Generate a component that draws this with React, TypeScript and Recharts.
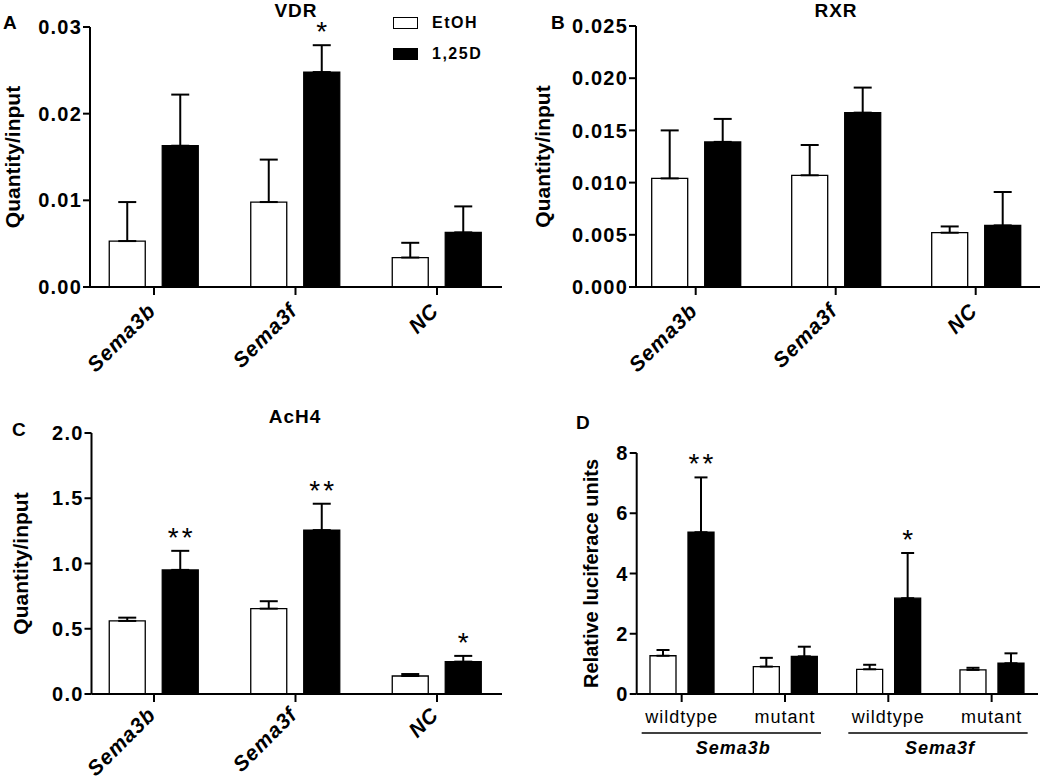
import React from "react";
import { BarChart, Bar, XAxis, YAxis, ErrorBar, LabelList, Legend } from "recharts";

const FONT = '"Liberation Sans", Arial, Helvetica, sans-serif';

// A - VDR ChIP
const GENES = ["Sema3b", "Sema3f", "NC"];
const VDR_ETOH = [0.0053, 0.0098, 0.0034];
const VDR_ETOH_ERR = [0.0045, 0.0049, 0.0017];
const VDR_D = [0.0163, 0.0248, 0.0063];
const VDR_D_ERR = [0.0059, 0.0031, 0.003];
const VDR_SIG = ["", "*", ""];
const VDR_TICKS = [0, 0.01, 0.02, 0.03];

// B - RXR ChIP
const RXR_ETOH = [0.0104, 0.0107, 0.0052];
const RXR_ETOH_ERR = [0.0046, 0.0029, 0.0006];
const RXR_D = [0.0139, 0.0167, 0.0059];
const RXR_D_ERR = [0.0022, 0.0024, 0.0032];
const RXR_SIG = ["", "", ""];
const RXR_TICKS = [0, 0.005, 0.01, 0.015, 0.02, 0.025];

// C - AcH4 ChIP
const ACH4_ETOH = [0.56, 0.654, 0.138];
const ACH4_ETOH_ERR = [0.025, 0.057, 0.015];
const ACH4_D = [0.951, 1.256, 0.248];
const ACH4_D_ERR = [0.146, 0.202, 0.044];
const ACH4_SIG = ["**", "**", "*"];
const ACH4_TICKS = [0, 0.5, 1, 1.5, 2];

// D - luciferase reporter
const CONSTRUCTS = ["wildtype", "mutant", "wildtype", "mutant"];
const CONSTRUCT_GENE = ["Sema3b", "Sema3b", "Sema3f", "Sema3f"];
const LUC_ETOH = [1.27, 0.91, 0.82, 0.8];
const LUC_ETOH_ERR = [0.19, 0.29, 0.15, 0.07];
const LUC_D = [5.37, 1.25, 3.18, 1.02];
const LUC_D_ERR = [1.82, 0.32, 1.5, 0.33];
const LUC_SIG = ["**", "", "*", ""];
const LUC_TICKS = [0, 2, 4, 6, 8];

const SERIES = [
  { key: "etoh", name: "EtOH", fill: "#ffffff" },
  { key: "d", name: "1,25D", fill: "#000000" },
];

type Row = { id: string; etoh: number; etohErr: number[]; d: number; dErr: number[]; sig: string };

const makeRows = (ids: string[], e: number[], ee: number[], d: number[], de: number[], sig: string[]): Row[] =>
  ids.map((id, i) => ({ id, etoh: e[i], etohErr: [0, ee[i]], d: d[i], dErr: [0, de[i]], sig: sig[i] }));

const vdrData = makeRows(GENES, VDR_ETOH, VDR_ETOH_ERR, VDR_D, VDR_D_ERR, VDR_SIG);
const rxrData = makeRows(GENES, RXR_ETOH, RXR_ETOH_ERR, RXR_D, RXR_D_ERR, RXR_SIG);
const ach4Data = makeRows(GENES, ACH4_ETOH, ACH4_ETOH_ERR, ACH4_D, ACH4_D_ERR, ACH4_SIG);
const lucData = makeRows(
  CONSTRUCTS.map((c, i) => `${CONSTRUCT_GENE[i]} ${c}`),
  LUC_ETOH, LUC_ETOH_ERR, LUC_D, LUC_D_ERR, LUC_SIG
);

const axisStroke = { stroke: "#000", strokeWidth: 2 };
const yTickStyle = { fill: "#000", fontSize: 20, fontWeight: 700, fontFamily: FONT, letterSpacing: 1.2 };

// gene names under panels A-C, rotated
const rotTick = (dy: number) => (p: any) => {
  const ax = p.x + 3;
  const ay = p.y + dy;
  return (
    <text x={ax} y={ay} transform={`rotate(-45 ${ax} ${ay})`} textAnchor="end" fill="#000"
      fontFamily={FONT} fontWeight={700} fontStyle="italic" fontSize={21} letterSpacing={1}>
      {p.payload.value}
    </text>
  );
};

// wildtype/mutant + gene group line for panel D
const lucTick = (p: any) => {
  const { x, y, payload } = p;
  const i = p.index ?? payload.index;
  const half = payload.offset ?? 51.7;
  return (
    <g>
      <text x={x} y={y + 19} textAnchor="middle" fill="#000" fontFamily={FONT} fontSize={18} letterSpacing={1}>
        {CONSTRUCTS[i]}
      </text>
      {i % 2 === 0 && (
        <>
          <line x1={x - 40} x2={x + 2 * half + 36} y1={y + 29} y2={y + 29} stroke="#000" strokeWidth={1.5} />
          <text x={x + half} y={y + 50} textAnchor="middle" fill="#000" fontFamily={FONT}
            fontWeight={700} fontStyle="italic" fontSize={18} letterSpacing={1}>
            {CONSTRUCT_GENE[i]}
          </text>
        </>
      )}
    </g>
  );
};

const sigLabel = (data: Row[]) => (p: any) => {
  const vb = p.viewBox ?? p;
  const row = data[p.index];
  if (!row || !row.sig) return null;
  const top = vb.y - (row.dErr[1] / row.d) * vb.height;
  return (
    <text x={vb.x + vb.width / 2 + 1.5} y={top - 4} textAnchor="middle" fill="#000"
      fontFamily={FONT} fontSize={28} letterSpacing={3}>
      {row.sig}
    </text>
  );
};

const yLabel = (text: string, dx: number, size: number) => (p: any) => {
  const vb = p.viewBox ?? { x: 0, y: 0, width: 0, height: 0 };
  const x = vb.x + dx;
  const y = vb.y + vb.height / 2;
  return (
    <text x={x} y={y} transform={`rotate(-90 ${x} ${y})`} textAnchor="middle" fill="#000"
      fontFamily={FONT} fontWeight={700} fontSize={size}>
      {text}
    </text>
  );
};

const legendContent = () => (
  <div style={{ fontFamily: FONT, fontWeight: 700, fontSize: 16, letterSpacing: 1.5, color: "#000" }}>
    {SERIES.map((s) => (
      <div key={s.key} style={{ display: "flex", alignItems: "center", height: 31 }}>
        <span style={{ display: "inline-block", width: 23, height: 10, border: "1.5px solid #000",
          background: s.fill, marginRight: 14 }} />
        {s.name}
      </div>
    ))}
  </div>
);

type PanelProps = {
  data: Row[];
  left: number; top: number; width: number; height: number;
  margin: { top: number; right: number; bottom: number; left: number };
  yWidth: number;
  pad: { left: number; right: number };
  ticks: number[];
  fmt: (v: number) => string;
  label: string; labelDx: number; labelSize: number;
  tick: any;
  barSize: number; barGap: number; cap: number;
  legend?: boolean;
};

function Panel(p: PanelProps) {
  return (
    <div style={{ position: "absolute", left: p.left, top: p.top }}>
      <BarChart width={p.width} height={p.height} data={p.data} margin={p.margin}
        barSize={p.barSize} barGap={p.barGap}>
        <XAxis dataKey="id" interval={0} height={30} tickSize={8} tickMargin={2}
          axisLine={axisStroke} tickLine={axisStroke} tick={p.tick} padding={p.pad} />
        <YAxis type="number" domain={[0, p.ticks[p.ticks.length - 1]]} ticks={p.ticks} interval={0}
          tickFormatter={p.fmt} width={p.yWidth} tickSize={7} tickMargin={1}
          axisLine={axisStroke} tickLine={axisStroke} tick={yTickStyle}
          label={yLabel(p.label, p.labelDx, p.labelSize)} />
        {p.legend && (
          <Legend layout="vertical" align="center" verticalAlign="middle"
            wrapperStyle={{ left: 393, top: 7, width: 120 }} content={legendContent} />
        )}
        <Bar dataKey="etoh" name="EtOH" fill="#ffffff" stroke="#000" strokeWidth={1.3} isAnimationActive={false}>
          <ErrorBar dataKey="etohErr" width={p.cap} stroke="#000" strokeWidth={2} direction="y" isAnimationActive={false} />
        </Bar>
        <Bar dataKey="d" name="1,25D" fill="#000000" stroke="#000" strokeWidth={1.3} isAnimationActive={false}>
          <ErrorBar dataKey="dErr" width={p.cap} stroke="#000" strokeWidth={2} direction="y" isAnimationActive={false} />
          <LabelList dataKey="sig" content={sigLabel(p.data)} />
        </Bar>
      </BarChart>
    </div>
  );
}

export default function App() {
  return (
    <div style={{ position: "absolute", left: 0, top: 0, width: 1050, height: 782, background: "#fff", fontFamily: FONT, overflow: "hidden" }}>
      <Panel data={vdrData} left={0} top={0} width={520} height={390}
        margin={{ top: 27, right: 18, bottom: 73, left: 0 }} yWidth={90} pad={{ left: -6.75, right: -5.75 }}
        ticks={VDR_TICKS} fmt={(v) => v.toFixed(2)} label="Quantity/input" labelDx={20} labelSize={21}
        tick={rotTick(15)} barSize={36} barGap={17} cap={9} legend />
      <Panel data={rxrData} left={520} top={0} width={530} height={390}
        margin={{ top: 26, right: 10, bottom: 73, left: 0 }} yWidth={116} pad={{ left: -10.3, right: -5.7 }}
        ticks={RXR_TICKS} fmt={(v) => v.toFixed(3)} label="Quantity/input" labelDx={30} labelSize={21}
        tick={rotTick(15)} barSize={36} barGap={17} cap={9} />
      <Panel data={ach4Data} left={0} top={390} width={520} height={392}
        margin={{ top: 43, right: 18, bottom: 58, left: 0 }} yWidth={91.5} pad={{ left: -8.25, right: -5.75 }}
        ticks={ACH4_TICKS} fmt={(v) => v.toFixed(1)} label="Quantity/input" labelDx={28} labelSize={21}
        tick={rotTick(12)} barSize={36} barGap={17} cap={9} />
      <Panel data={lucData} left={520} top={390} width={530} height={392}
        margin={{ top: 63, right: 12, bottom: 58, left: 0 }} yWidth={116.7} pad={{ left: -6.7, right: -5.3 }}
        ticks={LUC_TICKS} fmt={(v) => String(v)} label="Relative luciferace units" labelDx={78} labelSize={20}
        tick={lucTick} barSize={26} barGap={12} cap={6.5} />
      <svg width={1050} height={782} style={{ position: "absolute", left: 0, top: 0, pointerEvents: "none" }}
        fontFamily={FONT} fontWeight={700} fill="#000">
        <text x={296} y={17} textAnchor="middle" fontSize={19} letterSpacing={1}>VDR</text>
        <text x={836} y={17} textAnchor="middle" fontSize={19} letterSpacing={1}>RXR</text>
        <text x={295} y={423} textAnchor="middle" fontSize={19} letterSpacing={1}>AcH4</text>
        <text x={3} y={29} fontSize={19}>A</text>
        <text x={551} y={29} fontSize={19}>B</text>
        <text x={12} y={436} fontSize={19}>C</text>
        <text x={576} y={429} fontSize={19}>D</text>
      </svg>
    </div>
  );
}
